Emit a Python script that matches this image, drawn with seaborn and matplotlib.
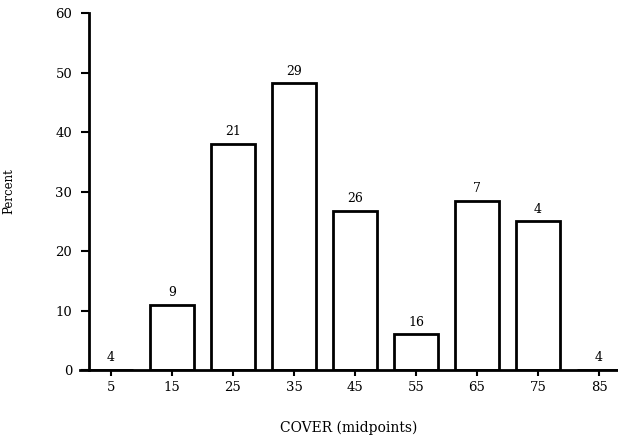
import matplotlib
matplotlib.use("Agg")
import matplotlib.pyplot as plt
import seaborn as sns
import pandas as pd

# values
midpoints = ["5", "15", "25", "35", "45", "55", "65", "75", "85"]
percent = [0, 11, 38, 48.2, 26.8, 6, 28.5, 25, 0]
counts = ["4", "9", "21", "29", "26", "16", "7", "4", "4"]

df = pd.DataFrame({"midpoint": midpoints, "percent": percent})

sns.set_style("ticks")
plt.rcParams["font.family"] = ["DejaVu Serif"]
plt.rcParams["font.size"] = 9
plt.rcParams["text.color"] = "black"
plt.rcParams["axes.labelcolor"] = "black"
plt.rcParams["xtick.color"] = "black"
plt.rcParams["ytick.color"] = "black"
plt.rcParams["axes.edgecolor"] = "black"

fig = plt.figure(figsize=(6.18, 4.4), dpi=100)
ax = fig.add_axes([0.13, 0.159, 0.87, 0.811])

sns.barplot(
    data=df, x="midpoint", y="percent", order=midpoints,
    color="white", edgecolor="black", linewidth=2, width=0.71,
    saturation=1, ax=ax,
)
ax.bar_label(ax.containers[0], labels=counts, padding=4, fontsize=9)

ax.set_ylim(0, 60)
ax.set_yticks([0, 10, 20, 30, 40, 50, 60])
ax.set_xlim(-0.5, 8.31)

for side in ["top", "right"]:
    ax.spines[side].set_visible(False)
ax.spines["left"].set_position(("data", -0.36))
ax.spines["left"].set_linewidth(2)
ax.spines["bottom"].set_linewidth(2)

ax.tick_params(axis="y", direction="out", length=6, width=1.5, pad=6, labelsize=9.5)
ax.tick_params(axis="x", direction="out", length=4, width=1.5, pad=4, labelsize=9.5)

ax.set_ylabel("Percent", fontsize=8.5)
ax.set_xlabel("COVER (midpoints)", fontsize=10)
ax.yaxis.set_label_coords(-0.12, 0.5)
ax.xaxis.set_label_coords(0.5, -0.162)
ax.xaxis.label.set_va("center")

fig.savefig("out.png", dpi=100)
